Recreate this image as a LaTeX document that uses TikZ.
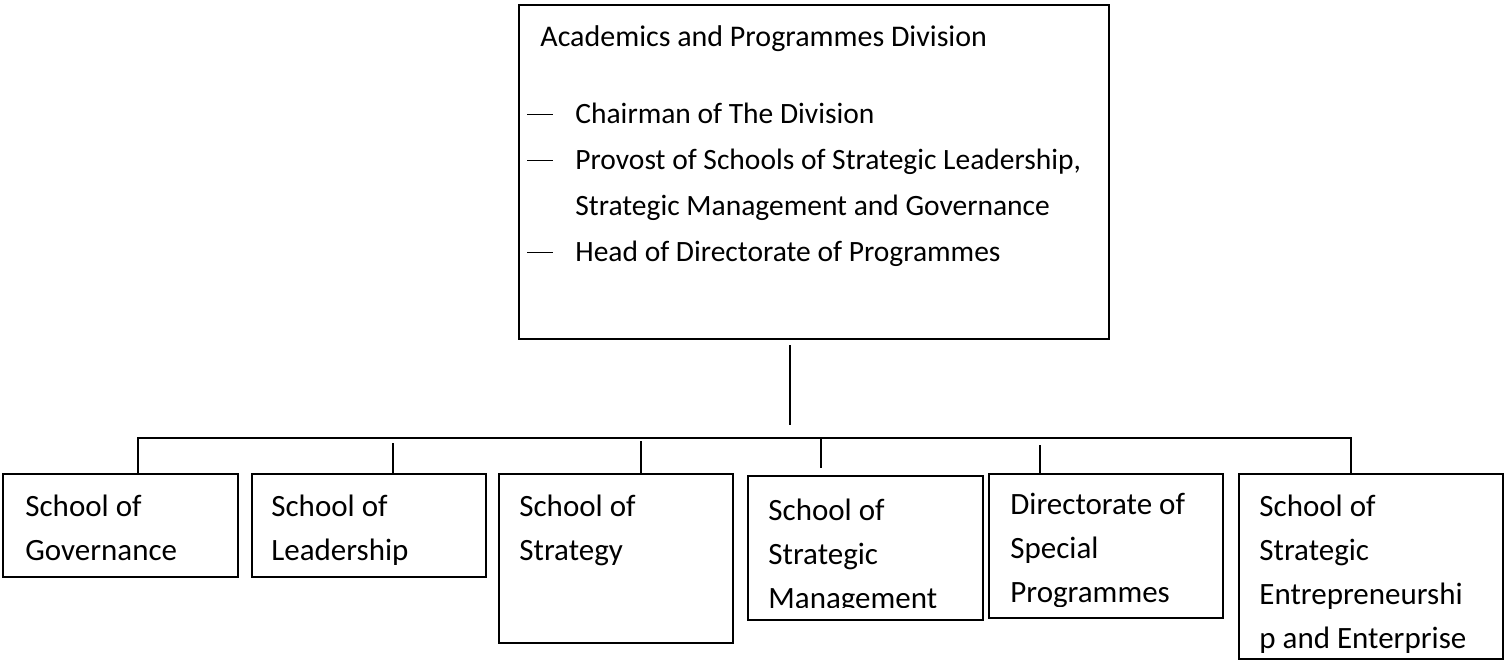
\documentclass[tikz,border=0pt]{standalone}
\usepackage{fontspec}
\setmainfont{Carlito}
\usetikzlibrary{calc}
\newcommand{\listdash}{\makebox[24pt][l]{\rule[4.3pt]{13pt}{0.6pt}}}

\begin{document}
\begin{tikzpicture}[
    x=0.5pt, y=-0.5pt,
    divbox/.style={draw=black, line width=1pt, inner sep=0pt, anchor=north west},
    schoolbox/.style={divbox, minimum width=117pt},
    divtext/.style={font=\fontsize{15pt}{23pt}\selectfont, inner sep=0pt, align=left},
    schooltext/.style={font=\fontsize{15.5pt}{22pt}\selectfont, inner sep=0pt, align=left, anchor=north west},
    link/.style={draw=black, line width=1pt}
]
\useasboundingbox (0,0) rectangle (1504,660);

%% --- Division box ---
\node[divbox, minimum width=295pt, minimum height=167pt] (division) at (518,4) {};
\node[divtext, anchor=base west] (divtitle) at (540,46) {Academics and Programmes Division};
\node[divtext, font=\fontsize{14.75pt}{23pt}\selectfont, anchor=north west] (divlist) at (527,103) {
    \listdash Chairman of The Division\\
    \listdash Provost of Schools of Strategic Leadership,\\
    \hspace*{24pt}Strategic Management and Governance\\
    \listdash Head of Directorate of Programmes
};

%% --- Schools ---
\node[schoolbox, minimum width=117.5pt, minimum height=51.5pt] (gov) at (2,473) {};
\node[schoolbox, minimum height=51.5pt] (lead) at (251,473) {};
\node[schoolbox, minimum height=84.5pt] (strat) at (498,473) {};
\node[schoolbox, minimum width=117.5pt, minimum height=72pt] (mgmt) at (747,475) {};
\node[schoolbox, minimum height=72pt] (spec) at (988,473) {};
\node[schoolbox, minimum width=132pt, minimum height=92.5pt] (entr) at (1238,473) {};

\node[schooltext] (govtext) at ($(gov.north west)+(23,22)$) {School of\\Governance};
\node[schooltext] (leadtext) at ($(lead.north west)+(20,22)$) {School of\\Leadership};
\node[schooltext] (strattext) at ($(strat.north west)+(21,22)$) {School of\\Strategy};
\begin{scope}
    \clip (mgmt.north west) rectangle ($(mgmt.south east)+(0,-14)$);
    \node[schooltext] (mgmttext) at ($(mgmt.north west)+(21,24)$) {School of\\Strategic\\Management};
\end{scope}
\begin{scope}
    \clip (spec.north west) rectangle ($(spec.south east)+(0,-13)$);
    \node[schooltext] (spectext) at ($(spec.north west)+(22,20)$) {Directorate of\\Special\\Programmes};
\end{scope}
\begin{scope}
    \clip (entr.north west) rectangle ($(entr.south east)+(0,-8)$);
    \node[schooltext] (entrtext) at ($(entr.north west)+(21,22)$) {School of\\Strategic\\Entrepreneurshi\\p and Enterprise};
\end{scope}

%% --- Connectors ---
\coordinate (hub) at (790,438);
\coordinate (barL) at (138,438);
\coordinate (barR) at (1351,438);
\draw[link] ($(division.south -| hub)+(0,5)$) -- ($(hub)+(0,-13)$);
\draw[link] (gov.north -| barL) -- (barL) -- (barR) -- (barR |- entr.north);
\foreach \name/\x/\top/\gap in {lead/393/443/0, strat/641/441/0, mgmt/821/438/7, spec/1040/445/0} {
    \coordinate (drop) at (\x,\top);
    \draw[link] (drop) -- ($(drop |- \name.north)+(0,-\gap)$);
}

\end{tikzpicture}
\end{document}
